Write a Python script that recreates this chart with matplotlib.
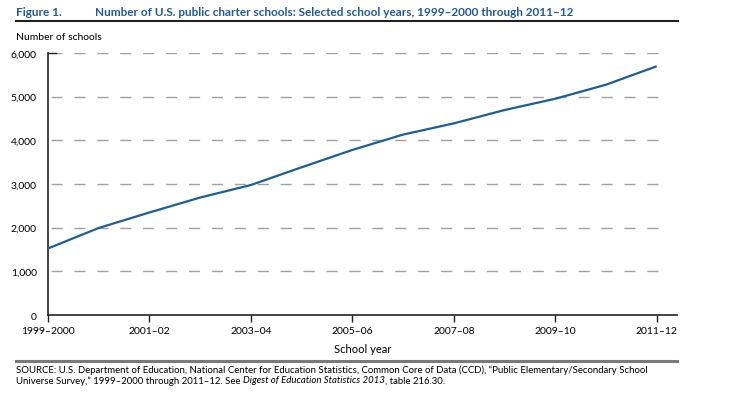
import matplotlib.pyplot as plt
from matplotlib.lines import Line2D

years = ["1999-2000", "2000-01", "2001-02", "2002-03", "2003-04", "2004-05", "2005-06",
         "2006-07", "2007-08", "2008-09", "2009-10", "2010-11", "2011-12"]
schools = [1524, 1993, 2348, 2690, 2977, 3383, 3780, 4132, 4388, 4694, 4952, 5274, 5696]
tick_labels = ["1999\u20132000", "2001\u201302", "2003\u201304", "2005\u201306",
               "2007\u201308", "2009\u201310", "2011\u201312"]
y_ticks = [0, 1000, 2000, 3000, 4000, 5000, 6000]

W, H = 745, 406
plt.rcParams["font.family"] = ["Lato", "DejaVu Sans"]

fig = plt.figure(figsize=(W / 100, H / 100), dpi=100)


def fx(px):
    return px / W


def fy(py):
    return 1 - py / H


ax = fig.add_axes([fx(48), fy(316), fx(677 - 48), fy(54) - fy(316)])

x = list(range(len(years)))
ax.plot(x, schools, color="#1b5e98", lw=1.6, solid_capstyle="butt", zorder=3)

for v in y_ticks[1:]:
    ax.hlines(v, 0.05, 12.22, colors="#a0a0a0", lw=1.0, linestyles=(0, (8, 8.5)), zorder=1)

ax.set_xlim(0, 12.4)
ax.set_ylim(0, 6000)
ax.set_xticks(x[::2])
ax.set_xticklabels(tick_labels)
ax.set_yticks(y_ticks)
ax.set_yticklabels([f"{v:,}" for v in y_ticks])
ax.tick_params(axis="x", direction="out", length=5, width=1, labelsize=7.5, pad=3, color="#222222")
ax.tick_params(axis="y", length=0, labelsize=7.5, pad=8)
for s in ["top", "right"]:
    ax.spines[s].set_visible(False)
for s in ["left", "bottom"]:
    ax.spines[s].set_color("#222222")
    ax.spines[s].set_linewidth(1.2)
ax.plot([0, 0.15], [6000, 6000], color="#222222", lw=1.0, clip_on=False)

ax.set_xlabel("School year", fontsize=8, labelpad=6)

fig.text(fx(16), fy(12), "Figure 1.", color="#1f5a9a", fontsize=8.5, fontweight="bold", va="center")
fig.text(fx(95), fy(12), "Number of U.S. public charter schools: Selected school years, 1999\u20132000 through 2011\u201312",
         color="#1f5a9a", fontsize=8.5, fontweight="bold", va="center")
fig.add_artist(Line2D([fx(16), fx(678)], [fy(21.5), fy(21.5)], color="#222222", lw=1.5))

fig.text(fx(16), fy(37), "Number of schools", fontsize=7.5, va="center")

fig.add_artist(Line2D([fx(16), fx(677)], [fy(362), fy(362)], color="#7a7a7a", lw=2.2))
fs = 6.9
fig.text(fx(16), fy(370.5), "SOURCE: U.S. Department of Education, National Center for Education Statistics, Common Core of Data (CCD), \u201cPublic Elementary/Secondary School",
         fontsize=fs, va="center")

# second source line has an italic title in the middle, so place pieces one after another
renderer = fig.canvas.get_renderer()
parts = [("Universe Survey,\u201d 1999\u20132000 through 2011\u201312. See ", "normal"),
         ("Digest of Education Statistics 2013", "italic"),
         (", table 216.30.", "normal")]
xpos = fx(16)
for txt, style in parts:
    t = fig.text(xpos, fy(381), txt, fontsize=fs, style=style, va="center")
    bb = t.get_window_extent(renderer=renderer)
    xpos += bb.width / W

fig.savefig("out.png", dpi=100)
